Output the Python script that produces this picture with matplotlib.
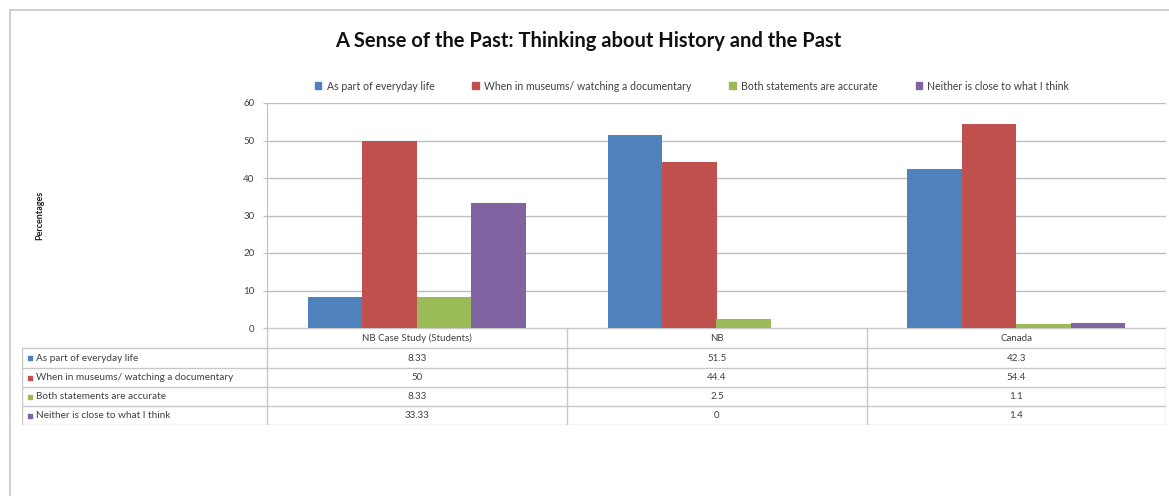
import matplotlib
matplotlib.use('Agg')
import matplotlib.pyplot as plt
from matplotlib.lines import Line2D
from matplotlib.patches import Patch
import numpy as np

# Data
categories = ['NB Case Study (Students)', 'NB', 'Canada']
series_names = ['As part of everyday life',
                'When in museums/ watching a documentary',
                'Both statements are accurate',
                'Neither is close to what I think']
everyday = [8.33, 51.5, 42.3]
museums = [50, 44.4, 54.4]
both = [8.33, 2.5, 1.1]
neither = [33.33, 0, 1.4]
value_labels = [['8.33', '51.5', '42.3'],
                ['50', '44.4', '54.4'],
                ['8.33', '2.5', '1.1'],
                ['33.33', '0', '1.4']]
yticks = [0, 10, 20, 30, 40, 50, 60]

colors = ['#4F81BD', '#C0504D', '#9BBB59', '#8064A2']
grid_col = '#BFBFBF'
text_col = '#404040'

plt.rcParams['font.family'] = ['Lato', 'DejaVu Sans']

W, H = 1169, 496
fig = plt.figure(figsize=(W / 100, H / 100), dpi=100)

def px_rect(x0, y0, x1, y1):
    # convert pixel box (top-left origin) to figure fraction
    return [x0 / W, 1 - y1 / H, (x1 - x0) / W, (y1 - y0) / H]

# outer chart border (left and top edges visible)
fig.add_artist(Line2D([10 / W, 10 / W], [0, 1 - 10 / H], transform=fig.transFigure, color='#C8C8C8', lw=1.2))
fig.add_artist(Line2D([10 / W, 1], [1 - 10 / H, 1 - 10 / H], transform=fig.transFigure, color='#C8C8C8', lw=1.2))

# main bar axes
ax = fig.add_axes(px_rect(267, 103, 1166, 328))
x = np.arange(len(categories))
w = 1 / 5.5
all_series = [everyday, museums, both, neither]
for i, vals in enumerate(all_series):
    ax.bar(x + (i - 1.5) * w, vals, width=w, color=colors[i], label=series_names[i], zorder=3)

ax.set_xlim(-0.5, len(categories) - 0.5)
ax.set_ylim(0, 60)
ax.set_yticks(yticks)
ax.set_yticklabels([str(t) for t in yticks], fontsize=7, color=text_col)
ax.set_xticks([])
ax.grid(axis='y', color=grid_col, lw=1, zorder=0)
for s in ['top', 'right', 'bottom']:
    ax.spines[s].set_visible(False)
ax.spines['left'].set_color(grid_col)
ax.tick_params(axis='y', length=3, color=grid_col, pad=6)

# y label
fig.text(40 / W, 1 - 215 / H, 'Percentages', rotation=90, fontsize=6.5, fontweight='bold',
         ha='center', va='center', color='#202020')

# title
fig.text(588 / W, 1 - 41 / H, 'A Sense of the Past: Thinking about History and the Past',
         fontsize=14.5, fontweight='bold', ha='center', va='center', color='#111111')

# legend
handles = [Patch(color=c) for c in colors]
fig.legend(handles, series_names, loc='center', bbox_to_anchor=(692 / W, 1 - 86 / H), ncol=4,
           frameon=False, fontsize=7.6, handlelength=0.6, handleheight=0.6, handletextpad=0.5,
           columnspacing=3.6, labelcolor=text_col)

# data table underneath
tx = fig.add_axes(px_rect(22, 328, 1166, 425))
tx.set_xlim(22, 1166)
tx.set_ylim(425, 328)
tx.axis('off')
col_edges = [22, 267, 567, 867, 1166]
row_edges = [328, 348, 368, 387, 406, 425]
line_kw = dict(color='#C8C8C8', lw=1)

# header row
tx.plot([267, 1166], [328, 328], **line_kw)
for xe in col_edges[1:]:
    tx.plot([xe, xe], [328, 348], **line_kw)
for j, cat in enumerate(categories):
    tx.text((col_edges[j + 1] + col_edges[j + 2]) / 2, 338, cat, ha='center', va='center',
            fontsize=7, color=text_col)

# body rows
for ye in row_edges[1:]:
    tx.plot([22, 1166], [ye, ye], **line_kw)
for xe in col_edges:
    tx.plot([xe, xe], [348, 425], **line_kw)

for i, name in enumerate(series_names):
    yc = (row_edges[i + 1] + row_edges[i + 2]) / 2
    tx.scatter([30], [yc], marker='s', s=10, color=colors[i])
    tx.text(36, yc, name, ha='left', va='center', fontsize=7.2, color=text_col)
    for j in range(len(categories)):
        tx.text((col_edges[j + 1] + col_edges[j + 2]) / 2, yc, value_labels[i][j],
                ha='center', va='center', fontsize=7, color=text_col)

fig.savefig('out.png', dpi=100, facecolor='white')
